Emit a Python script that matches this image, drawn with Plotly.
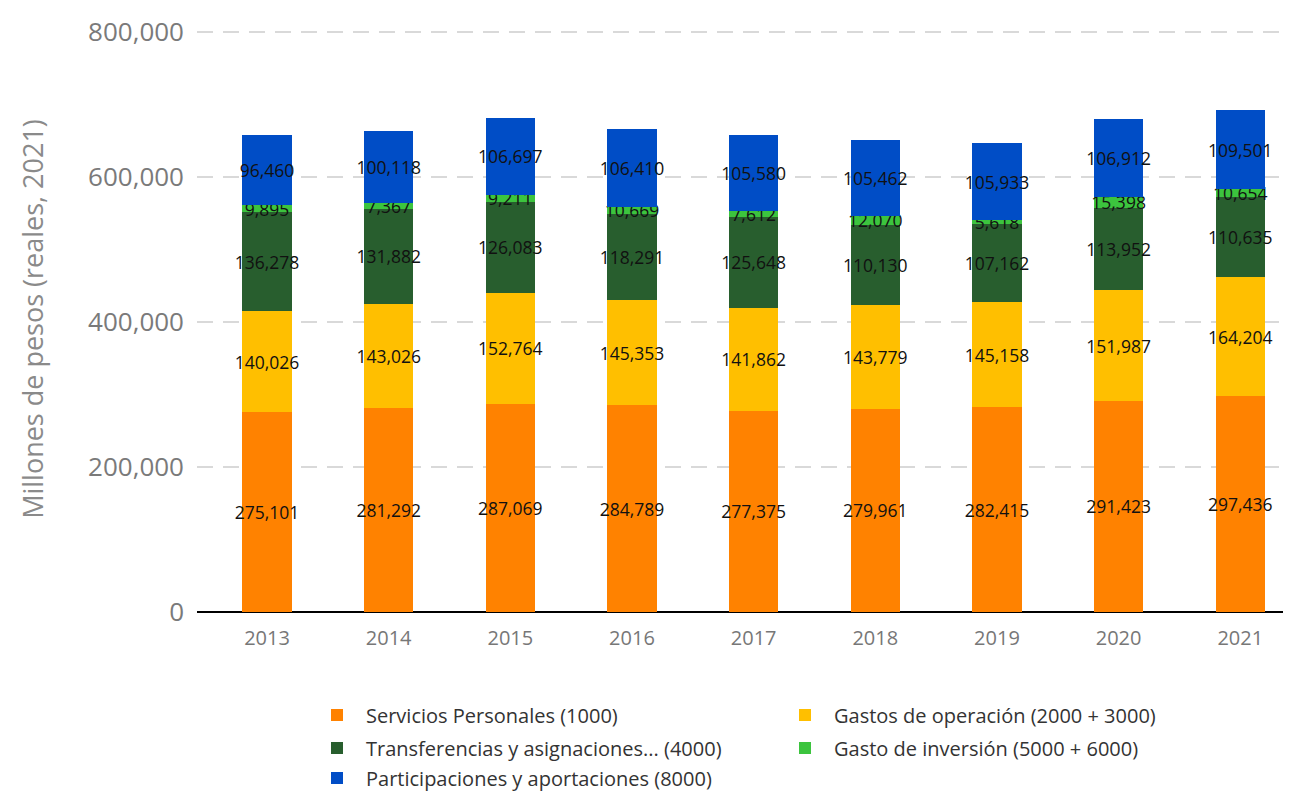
import plotly.graph_objects as go

years = ["2013", "2014", "2015", "2016", "2017", "2018", "2019", "2020", "2021"]
servicios = [275101, 281292, 287069, 284789, 277375, 279961, 282415, 291423, 297436]
operacion = [140026, 143026, 152764, 145353, 141862, 143779, 145158, 151987, 164204]
transferencias = [136278, 131882, 126083, 118291, 125648, 110130, 107162, 113952, 110635]
inversion = [9895, 7367, 9211, 10669, 7612, 12070, 5618, 15398, 10654]
participaciones = [96460, 100118, 106697, 106410, 105580, 105462, 105933, 106912, 109501]

names = [
    "Servicios Personales (1000)",
    "Gastos de operación (2000 + 3000)",
    "Transferencias y asignaciones... (4000)",
    "Gasto de inversión (5000 + 6000)",
    "Participaciones y aportaciones (8000)",
]
series = [servicios, operacion, transferencias, inversion, participaciones]
colors = ["#FF8200", "#FFBF00", "#285E2E", "#3CC43E", "#004DC6"]

legend_pos = [(0, 0), (1, 0), (0, 1), (1, 1), (0, 2)]

# the page adds an 8px body margin, so the figure is drawn 8px smaller
W, H = 1283, 785
ml, mr, mt, mb = 189, 0, 18, 181
pw, ph = W - ml - mr, H - mt - mb
SX0, SY1 = 197, 612

fig = go.Figure()
xs = list(range(len(years)))
for i, (name, vals, col) in enumerate(zip(names, series, colors)):
    lg = "legend" if i == 0 else f"legend{i+1}"
    fig.add_trace(go.Bar(
        x=xs, y=vals, name=name, marker=dict(color=col, line=dict(width=0)),
        width=0.405,
        text=[f"{v:,}" for v in vals], textposition="inside", insidetextanchor="middle",
        textangle=0, constraintext="none",
        textfont=dict(family="Open Sans", size=17.5, color="#111111"),
        legend=lg, showlegend=True,
    ))

col_px = [308, 776]
row_px = [715, 748, 778]
legend_layouts = {}
for i, (c, r) in enumerate(legend_pos):
    key = "legend" if i == 0 else f"legend{i+1}"
    legend_layouts[key] = dict(
        x=(col_px[c] - SX0) / pw, y=(SY1 - row_px[r]) / ph,
        xanchor="left", yanchor="middle", orientation="h",
        font=dict(family="Open Sans", size=20, color="#333333"),
        bgcolor="rgba(0,0,0,0)", itemclick=False, itemdoubleclick=False,
        itemwidth=48,
    )

fig.update_layout(
    width=W, height=H, barmode="stack",
    margin=dict(l=ml, r=mr, t=mt, b=mb, autoexpand=False),
    plot_bgcolor="white", paper_bgcolor="white",
    uniformtext=dict(minsize=17.5, mode="show"),
    **legend_layouts,
)
fig.update_xaxes(
    tickmode="array", tickvals=xs, ticktext=years,
    range=[-0.5754, 8.417], showgrid=False, showline=False, zeroline=False,
    tickfont=dict(family="Open Sans", size=20, color="#777777"),
    ticklabelstandoff=12, automargin=False,
)
fig.update_yaxes(
    range=[0, 808000], tickvals=[0, 200000, 400000, 600000, 800000],
    tickformat=",", showgrid=True, gridcolor="#D9D9D9", gridwidth=2, griddash="16px,10px",
    zeroline=True, zerolinecolor="#000000", zerolinewidth=2, showline=False,
    tickfont=dict(family="Open Sans", size=26, color="#7A7A7A"),
    ticklabelstandoff=12, automargin=False,
    title=dict(text="Millones de pesos (reales, 2021)", standoff=36,
               font=dict(family="Open Sans", size=27, color="#8A8A8A")),
)

fig.write_html("out.html")
